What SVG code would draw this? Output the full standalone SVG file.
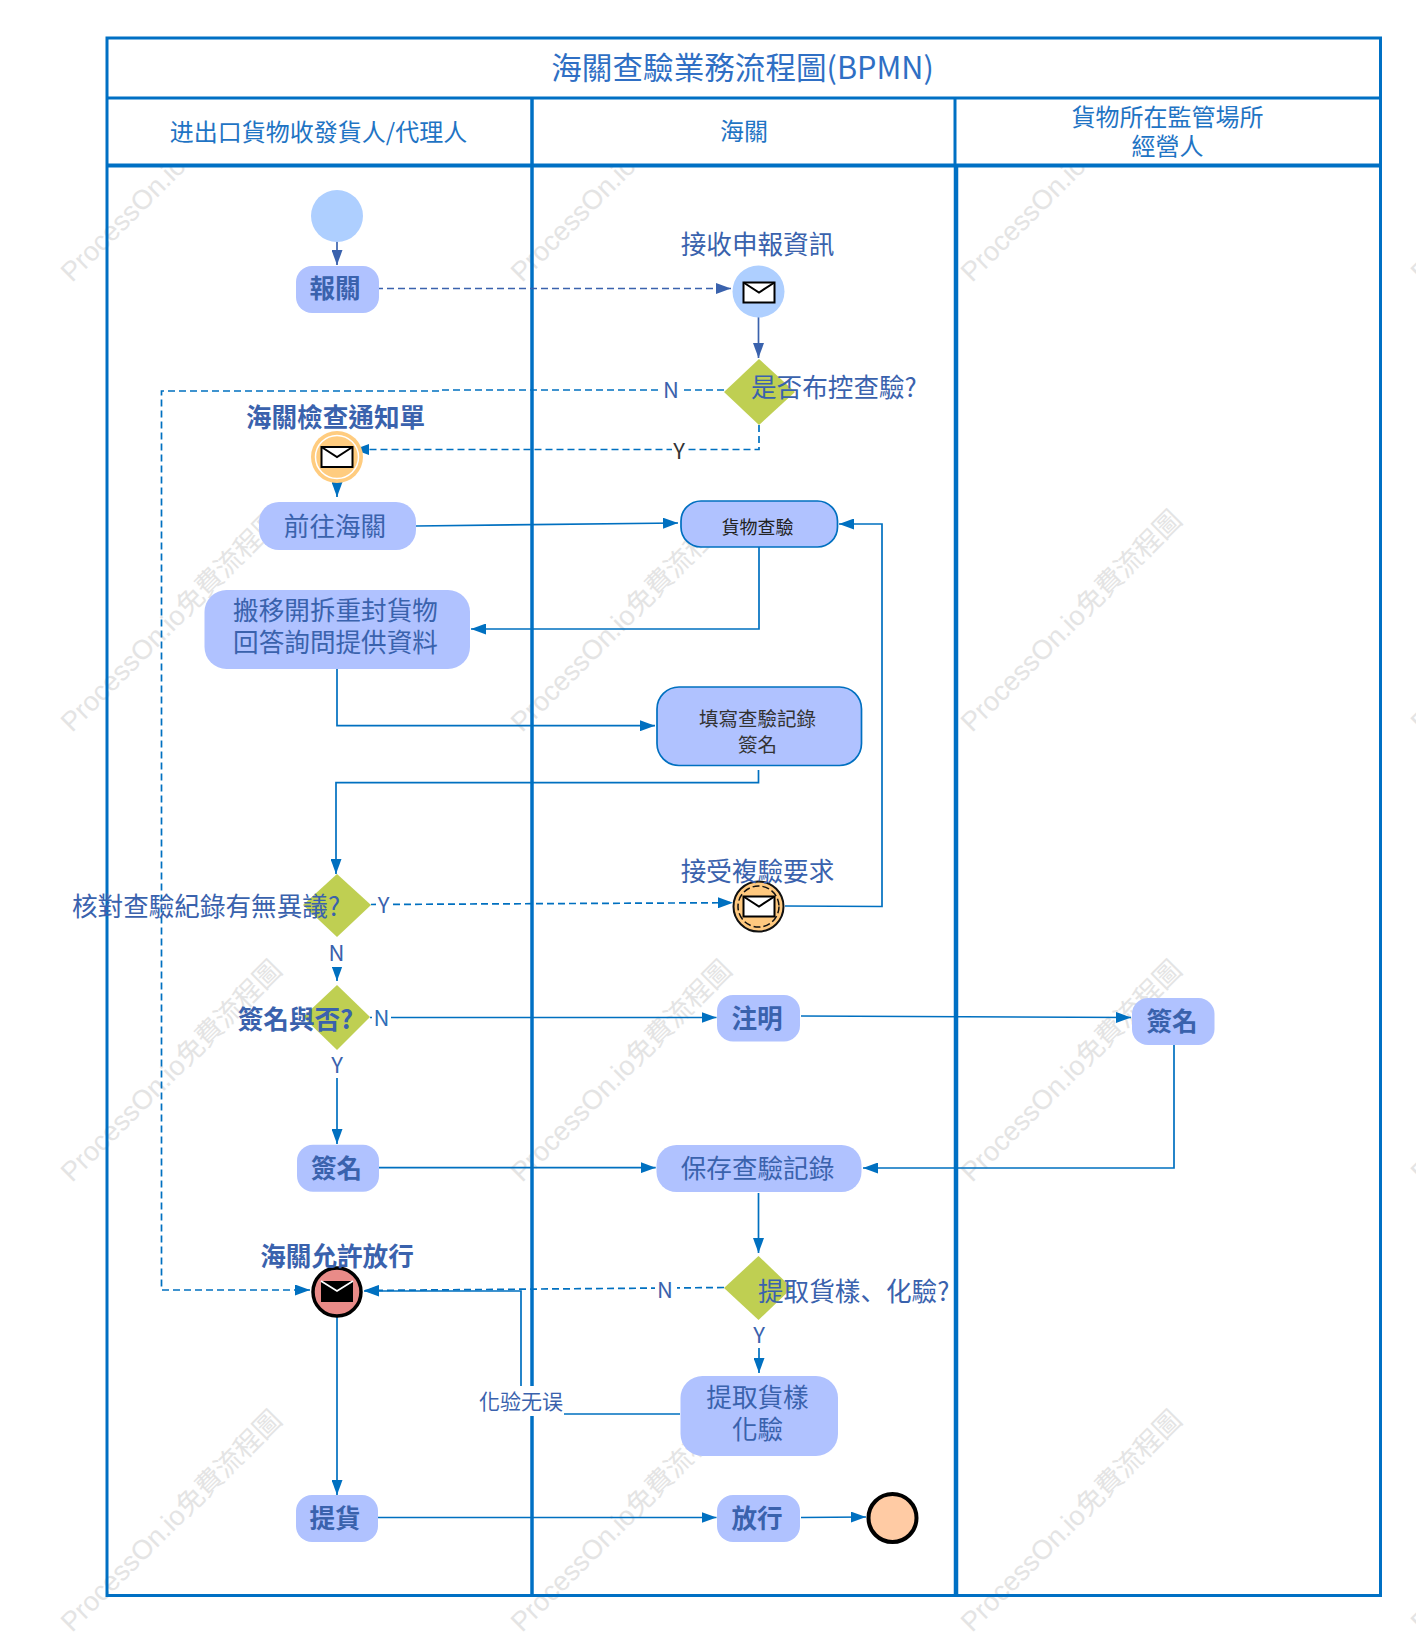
<svg xmlns="http://www.w3.org/2000/svg" width="1416" height="1633" viewBox="0 0 1416 1633">
<style>
text{font-family:"Noto Sans CJK TC","Noto Sans",sans-serif;text-anchor:middle;dominant-baseline:central;fill:#3a62ad}
.wm{font-family:"Liberation Sans","Noto Sans CJK TC",sans-serif;font-size:27.2px;fill:#e4e4e4;text-anchor:start;dominant-baseline:auto}
.t{font-size:25.6px}
.b{font-weight:700}
.h{fill:#1f74c4;font-size:24px}
.s{font-size:18px;fill:#222}
.s2{font-size:19.500px;fill:#333}
.lab{font-size:22px}
.frame{fill:none;stroke:#0070c4;stroke-width:3}
.c{fill:none;stroke:#0070c0;stroke-width:1.7;marker-end:url(#a)}
.d{stroke-dasharray:7 4}
.c2{fill:none;stroke:#3a62ad;stroke-width:1.7;marker-end:url(#a2)}
.task{fill:#b0c2ff}
.task2{fill:#b0c2ff;stroke:#0070c0;stroke-width:1.7}
.gw{fill:#bfcf52}
.bg{fill:#fff}
.env{fill:#fff;stroke:#000;stroke-width:2}
.envl{fill:none;stroke:#000;stroke-width:2}
</style>
<defs>
<marker id="a" markerUnits="userSpaceOnUse" markerWidth="15" markerHeight="11" refX="15" refY="5.5" orient="auto"><path d="M0 0L15 5.5L0 11Z" fill="#0070c0"/></marker>
<marker id="a2" markerUnits="userSpaceOnUse" markerWidth="15" markerHeight="11" refX="15" refY="5.5" orient="auto"><path d="M0 0L15 5.5L0 11Z" fill="#3a62ad"/></marker>
<g id="mail"><rect class="env" x="-15.500" y="-10" width="31" height="20"/><path class="envl" d="M-15.500 -10L0 0L15.500 -10"/></g>
</defs>
<rect width="1416" height="1633" fill="#fff"/>
<g id="watermarks">
<text class="wm" transform="translate(72 283) rotate(-45)">ProcessOn.io免費流程圖</text>
<text class="wm" transform="translate(522 283) rotate(-45)">ProcessOn.io免費流程圖</text>
<text class="wm" transform="translate(972 283) rotate(-45)">ProcessOn.io免費流程圖</text>
<text class="wm" transform="translate(1422 283) rotate(-45)">ProcessOn.io免費流程圖</text>
<text class="wm" transform="translate(72 733) rotate(-45)">ProcessOn.io免費流程圖</text>
<text class="wm" transform="translate(522 733) rotate(-45)">ProcessOn.io免費流程圖</text>
<text class="wm" transform="translate(972 733) rotate(-45)">ProcessOn.io免費流程圖</text>
<text class="wm" transform="translate(1422 733) rotate(-45)">ProcessOn.io免費流程圖</text>
<text class="wm" transform="translate(72 1183) rotate(-45)">ProcessOn.io免費流程圖</text>
<text class="wm" transform="translate(522 1183) rotate(-45)">ProcessOn.io免費流程圖</text>
<text class="wm" transform="translate(972 1183) rotate(-45)">ProcessOn.io免費流程圖</text>
<text class="wm" transform="translate(1422 1183) rotate(-45)">ProcessOn.io免費流程圖</text>
<text class="wm" transform="translate(72 1633) rotate(-45)">ProcessOn.io免費流程圖</text>
<text class="wm" transform="translate(522 1633) rotate(-45)">ProcessOn.io免費流程圖</text>
<text class="wm" transform="translate(972 1633) rotate(-45)">ProcessOn.io免費流程圖</text>
<text class="wm" transform="translate(1422 1633) rotate(-45)">ProcessOn.io免費流程圖</text>
</g>
<g id="pool">
<rect class="bg" x="107" y="38" width="1273" height="127"/>
<rect class="frame" x="107" y="38" width="1273.500" height="1557.500"/>
<path class="frame" d="M107 98H1380"/>
<path class="frame" style="stroke-width:4" d="M107 165.500H1380"/>
<path class="frame" style="stroke-width:3.500" d="M532 98V1595"/>
<path class="frame" style="stroke-width:3" d="M955 98V165"/>
<path class="frame" style="stroke-width:4.500" d="M956 165V1595"/>
<text x="742.500" y="66" style="font-size:30.600px;fill:#2f6fc4">海關查驗業務流程圖(BPMN)</text>
<text class="h" x="318.500" y="130">进出口貨物收發貨人/代理人</text>
<text class="h" x="744" y="129.500">海關</text>
<text class="h" x="1167.500" y="115">貨物所在監管場所</text>
<text class="h" x="1167.500" y="144">經營人</text>
</g>
<g id="connectors">
<path class="c2" d="M337 241V265"/>
<path class="c2 d" d="M376 288.500H731"/>
<path class="c2" d="M758.500 317V358"/>
<path class="c d" d="M724 390H441.500V391H161.500V1290H310"/>
<rect class="bg" x="659" y="378" width="24" height="24"/>
<text x="671" y="388" class="lab">N</text>
<path class="c d" d="M759 425V449.500H354"/>
<rect class="bg" x="672" y="438" width="14" height="24"/>
<text x="679" y="448.500" class="lab" style="fill:#333">Y</text>
<path class="c" d="M337 482V497"/>
<path class="c" d="M416 526L678 523"/>
<path class="c" d="M759 547V629H471"/>
<path class="c" d="M337 669V725.700H655"/>
<path class="c" d="M758.500 770V782.700H336V874"/>
<path class="c d" d="M371 904.500L733 902.700"/>
<rect class="bg" x="376" y="893" width="14" height="24"/>
<text x="383.500" y="903" class="lab">Y</text>
<path class="c" d="M785 906L882 906.500V524H839"/>
<path class="c" d="M337 935V981"/>
<rect class="bg" x="329" y="935" width="16" height="32"/>
<text x="336.500" y="950.500" class="lab">N</text>
<path class="c" d="M370 1017.500H716.500"/>
<rect class="bg" x="372" y="1006" width="19" height="24"/>
<text x="381.500" y="1016" class="lab" style="fill:#2e6fb8">N</text>
<path class="c" d="M337 1048V1144"/>
<rect class="bg" x="329" y="1048" width="16" height="30"/>
<text x="337" y="1062.500" class="lab">Y</text>
<path class="c" d="M379 1167.700H655.700"/>
<path class="c" d="M801 1016L1131 1017.500"/>
<path class="c" d="M1174 1045V1168H863"/>
<path class="c" d="M758.500 1193V1253"/>
<path class="c d" d="M724 1287.500L364 1290.500"/>
<rect class="bg" x="655" y="1278" width="22" height="24"/>
<text x="665" y="1288" class="lab">N</text>
<path class="c" d="M759 1318V1373"/>
<rect class="bg" x="751" y="1318" width="16" height="30"/>
<text x="759" y="1333" class="lab">Y</text>
<path class="c" d="M680 1414H521V1291H364"/>
<rect class="bg" x="479" y="1386" width="85" height="30"/>
<text x="521" y="1400" style="font-size:21px">化验无误</text>
<path class="c" d="M337 1317V1495"/>
<path class="c" d="M378 1517.500H716.500"/>
<path class="c" d="M801 1517.500L866 1517"/>
</g>
<g id="start"><circle cx="337" cy="216" r="26" fill="#aecfff"/></g>
<g id="n-report"><rect class="task" x="296" y="266" width="83" height="47" rx="16"/><text class="t b" x="335" y="286.500">報關</text></g>
<g id="e-receive"><circle cx="758.500" cy="291.500" r="26" fill="#aecfff"/><use href="#mail" x="759" y="292.500"/><text class="t" x="757.500" y="242">接收申報資訊</text></g>
<g id="g-control"><path class="gw" d="M759 359L795 392L759 425L724 392Z"/><text class="t" x="751" y="385" style="text-anchor:start">是否布控查驗?</text></g>
<g id="e-notice"><circle cx="337" cy="457" r="26" fill="#ffcc7f"/><circle cx="337" cy="457" r="21.500" fill="none" stroke="#fff" stroke-width="1.500"/><use href="#mail" x="337" y="457"/><text class="t b" x="335.500" y="415">海關檢查通知單</text></g>
<g id="n-goto"><rect class="task" x="259" y="502" width="157" height="48" rx="20"/><text class="t" x="335" y="524">前往海關</text></g>
<g id="n-inspect"><rect class="task2" x="681" y="501" width="156.500" height="46" rx="20"/><text class="s" x="757.500" y="526">貨物查驗</text></g>
<g id="n-move"><rect class="task" x="204.500" y="590" width="265.500" height="79" rx="22"/><text class="t" x="335.500" y="608">搬移開拆重封貨物</text><text class="t" x="335.500" y="640">回答詢問提供資料</text></g>
<g id="n-record"><rect class="task2" x="657" y="687" width="204.500" height="78.500" rx="22"/><text class="s2" x="757.500" y="717">填寫查驗記錄</text><text class="s2" x="757.500" y="743">簽名</text></g>
<g id="g-dispute"><path class="gw" d="M337 874L371 905L337 937L303 905Z"/><text class="t" x="206" y="904">核對查驗紀錄有無異議?</text></g>
<g id="e-recheck"><circle cx="758.500" cy="906.500" r="25" fill="#ffc97f" stroke="#111" stroke-width="2"/><circle cx="758.500" cy="906.500" r="20.500" fill="none" stroke="#111" stroke-width="1.500" stroke-dasharray="7 3"/><use href="#mail" x="759" y="906.500"/><text class="t" x="757.500" y="869.500">接受複驗要求</text></g>
<g id="g-sign"><path class="gw" d="M337 985L370 1017L337 1050L303 1017Z"/><text class="t b" x="295.500" y="1017.500">簽名與否?</text></g>
<g id="n-note"><rect class="task" x="717" y="995" width="83" height="46.500" rx="16"/><text class="t b" x="757" y="1016">注明</text></g>
<g id="n-sign-right"><rect class="task" x="1132" y="998" width="82.500" height="47" rx="16"/><text class="t b" x="1172" y="1019">簽名</text></g>
<g id="n-sign-left"><rect class="task" x="297" y="1144.700" width="82" height="47" rx="16"/><text class="t b" x="336.500" y="1166">簽名</text></g>
<g id="n-save"><rect class="task" x="656.500" y="1145" width="205" height="47" rx="20"/><text class="t" x="757.500" y="1166">保存查驗記錄</text></g>
<g id="g-sample"><path class="gw" d="M758.500 1256L792 1288L758.500 1320L724 1288Z"/><text class="t" x="758" y="1289" style="text-anchor:start;font-family:'Noto Sans CJK SC','Noto Sans CJK TC',sans-serif">提取貨樣、化驗?</text></g>
<g id="e-release"><circle cx="337" cy="1292" r="24" fill="#e98b88" stroke="#000" stroke-width="3.500"/><rect x="321" y="1281" width="32" height="21" fill="#000"/><path d="M321 1281L337 1291L353 1281" fill="none" stroke="#fff" stroke-width="1.700"/><text class="t b" x="337" y="1254">海關允許放行</text></g>
<g id="n-sample"><rect class="task" x="680.500" y="1376" width="157.500" height="80" rx="22"/><text class="t" x="757.500" y="1395">提取貨樣</text><text class="t" x="757.500" y="1427">化驗</text></g>
<g id="n-pickup"><rect class="task" x="296" y="1495" width="82" height="47" rx="16"/><text class="t b" x="335" y="1516">提貨</text></g>
<g id="n-release"><rect class="task" x="717" y="1495" width="83" height="47" rx="16"/><text class="t b" x="757" y="1516">放行</text></g>
<g id="end"><circle cx="892.500" cy="1518" r="24" fill="#ffcba4" stroke="#000" stroke-width="4"/></g>
</svg>
